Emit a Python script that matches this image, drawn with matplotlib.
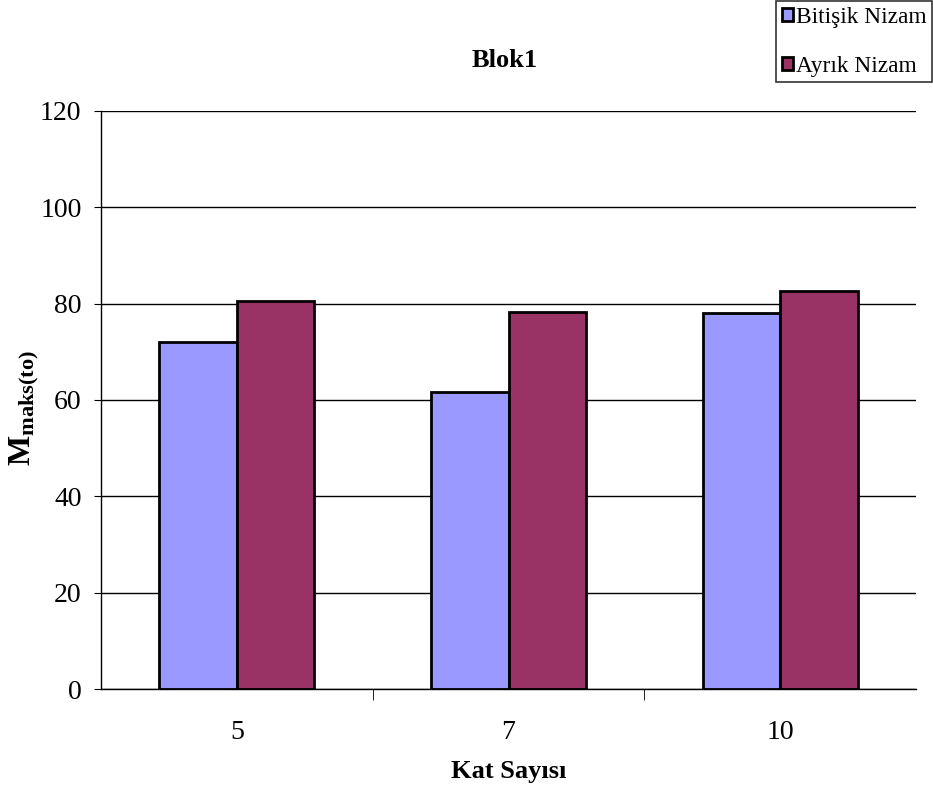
import matplotlib
matplotlib.use("Agg")
import matplotlib.pyplot as plt
import numpy as np

plt.rcParams['font.family'] = ['Liberation Serif', 'DejaVu Serif']
plt.rcParams['mathtext.fontset'] = 'custom'
plt.rcParams['mathtext.rm'] = 'Liberation Serif'
plt.rcParams['mathtext.bf'] = 'Liberation Serif:bold'

categories = ['5', '7', '10']
series_names = ['Bitişik Nizam', 'Ayrık Nizam']
bitisik = [72.0, 61.7, 78.1]
ayrik = [80.5, 78.2, 82.6]
colors = ['#9999FF', '#993366']

fig = plt.figure(figsize=(9.33, 7.87), dpi=100)
ax = fig.add_axes([0.1083, 0.1245, 0.8735, 0.7345])

x = np.arange(len(categories))
w = 1 / 3.5
ax.bar(x - w / 2, bitisik, w, color=colors[0], edgecolor='black', linewidth=2, label=series_names[0])
ax.bar(x + w / 2, ayrik, w, color=colors[1], edgecolor='black', linewidth=2, label=series_names[1])

ax.set_xlim(-0.5, 2.5)
ax.set_ylim(0, 120)
ax.set_yticks(range(0, 121, 20))
ax.yaxis.grid(True, color='black', linewidth=1)
ax.set_axisbelow(True)

ax.set_xticks(x)
ax.set_xticklabels(categories, fontsize=20)
ax.set_xticks([0.5, 1.5], minor=True)
ax.tick_params(axis='x', which='major', length=0, pad=22)
ax.tick_params(axis='x', which='minor', length=8, direction='out', color='black')
ax.tick_params(axis='y', labelsize=20, length=5, direction='out', pad=9)

for s in ['top', 'right']:
    ax.spines[s].set_visible(False)
ax.spines['left'].set_linewidth(1)
ax.spines['bottom'].set_linewidth(1)

ax.set_xlabel('Kat Sayısı', fontsize=19, fontweight='bold', labelpad=11)
ax.set_ylabel(r'$\mathbf{M_{maks(to)}}$', fontsize=23)
ax.yaxis.set_label_coords(-0.074, 0.487)
fig.text(0.541, 0.923, 'Blok1', fontsize=19, fontweight='bold', ha='center', va='center')

leg = fig.legend(loc='upper right', bbox_to_anchor=(0.999, 0.999), fontsize=16.8,
                 frameon=True, fancybox=False, edgecolor='black', handlelength=0.5,
                 handleheight=0.5, handletextpad=0.1, borderpad=0.25, labelspacing=1.2,
                 borderaxespad=0)
leg.get_frame().set_linewidth(1.2)

fig.savefig('out.png', dpi=100)
